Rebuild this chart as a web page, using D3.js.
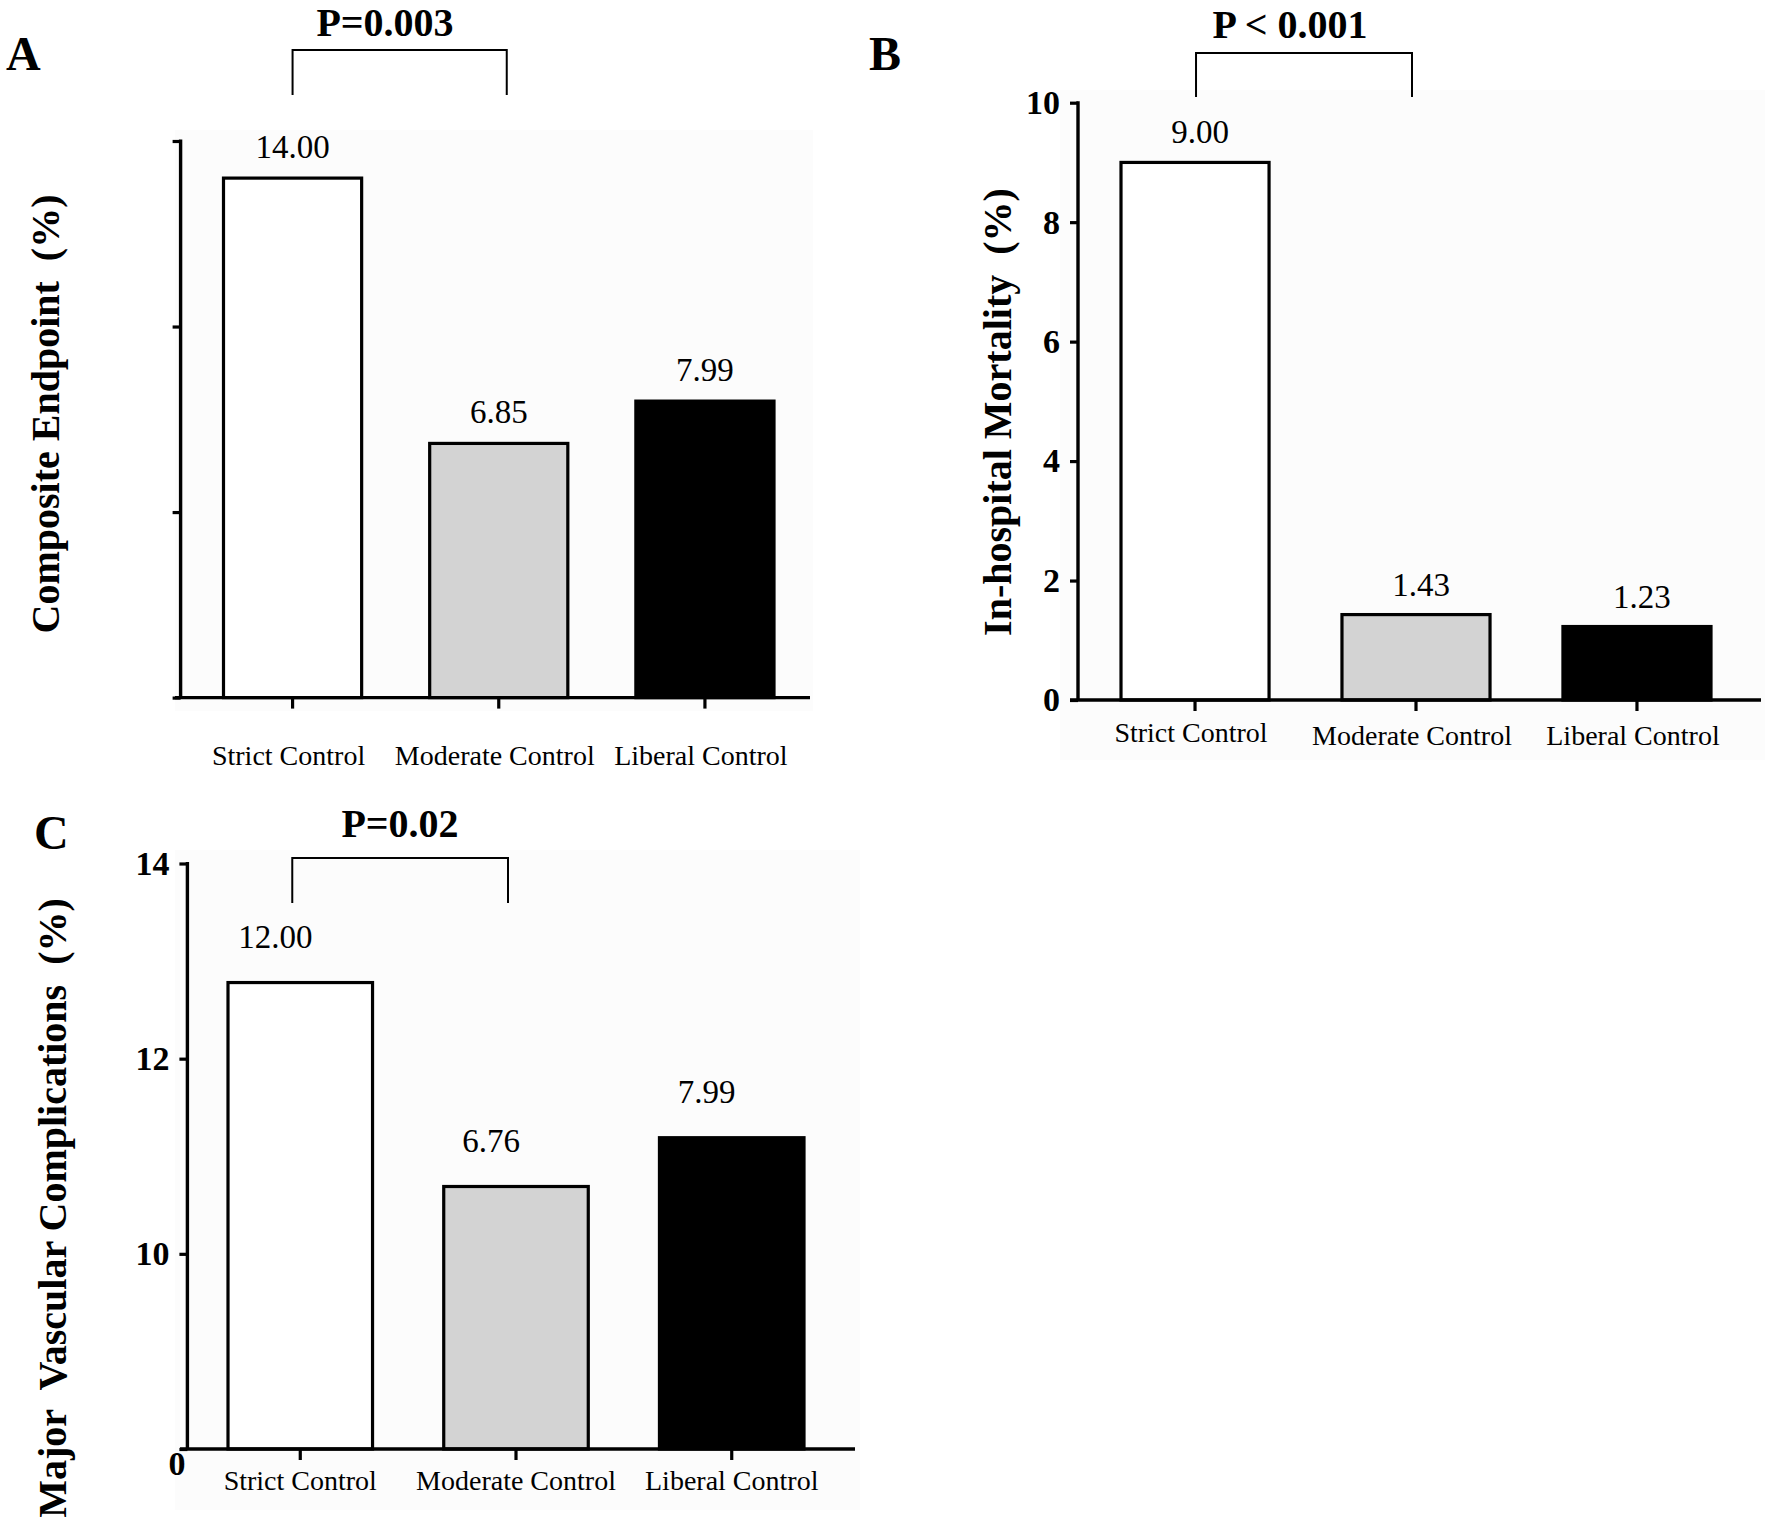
<!DOCTYPE html>
<html>
<head>
<meta charset="utf-8">
<script src="https://cdn.jsdelivr.net/npm/d3@7"></script>
<style>
  html, body { margin: 0; padding: 0; background: #fff; }
  svg { display: block; }
  text { font-family: "Liberation Serif", "Times New Roman", serif; white-space: pre; }
</style>
</head>
<body>
<svg id="chart" width="1770" height="1527"></svg>
<script>
// ---------------- DATA ----------------
const categories = ["Strict Control", "Moderate Control", "Liberal Control"];

// Panel A: Composite Endpoint (%)
const compositeValues = [14.00, 6.85, 7.99];
const compositeTicks = [0, 5, 10, 15];          // unlabeled ticks
const compositeTickLabels = ["", "", "", ""];

// Panel B: In-hospital Mortality (%)
const mortalityValues = [9.00, 1.43, 1.23];
const mortalityTicks = [0, 2, 4, 6, 8, 10];
const mortalityTickLabels = ["0", "2", "4", "6", "8", "10"];

// Panel C: Major Vascular Complications (%)
const vascularValues = [12.00, 6.76, 7.99];      // printed values
const vascularBarLevels = [12.78, 10.69, 11.19]; // bar tops as read on the drawn (broken) axis
const vascularTicks = [8, 10, 12, 14];
const vascularTickLabels = ["0", "10", "12", "14"];

const panelLetters = ["A", "B", "C"];
const pLabels = ["P=0.003", "P < 0.001", "P=0.02"];
const yTitles = ["Composite Endpoint  (%)", "In-hospital Mortality  (%)", "Major  Vascular Complications  (%)"];
const barFills = ["#ffffff", "#d3d3d3", "#000000"];

// ---------------- LAYOUT ----------------
const FONT = "Liberation Serif, Times New Roman, serif";
const panels = [
  {
    letter: panelLetters[0], letterX: 6, letterY: 70,
    p: pLabels[0], pX: 385, pY: 36,
    bracketY: 50, bracketBottom: 95, bracketDx: 0, bracketDx2: 8,
    title: yTitles[0], titleX: 47, titleY: 414,
    values: compositeValues, levels: compositeValues, labels: compositeValues.map(d => d.toFixed(2)),
    ticks: compositeTicks, tickLabels: compositeTickLabels,
    domain: [0, 15], yTop: 141, yBottom: 697.6, axisX: 180.6,
    barLeft: 223.5, barRight: 774, xAxisStart: 175, xAxisEnd: 810,
    valueDx: 0, valueGap: 20, catY: 765, bg: [175, 130, 813, 711]
  },
  {
    letter: panelLetters[1], letterX: 869, letterY: 70,
    p: pLabels[1], pX: 1290, pY: 38,
    bracketY: 53, bracketBottom: 97, bracketDx: 1, bracketDx2: -4,
    title: yTitles[1], titleX: 999, titleY: 412,
    values: mortalityValues, levels: mortalityValues, labels: mortalityValues.map(d => d.toFixed(2)),
    ticks: mortalityTicks, tickLabels: mortalityTickLabels,
    domain: [0, 10], yTop: 102.7, yBottom: 700, axisX: 1078,
    barLeft: 1121, barRight: 1711, xAxisStart: 1070, xAxisEnd: 1761,
    valueDx: 5, valueGap: 19, catY: 745, bg: [1060, 90, 1765, 760]
  },
  {
    letter: panelLetters[2], letterX: 34, letterY: 849,
    p: pLabels[2], pX: 400, pY: 837,
    bracketY: 858, bracketBottom: 903, bracketDx: -8, bracketDx2: -8,
    title: yTitles[2], titleX: 54, titleY: 1208,
    values: vascularValues, levels: vascularBarLevels, labels: vascularValues.map(d => d.toFixed(2)),
    ticks: vascularTicks, tickLabels: vascularTickLabels,
    domain: [8, 14], yTop: 863.5, yBottom: 1449, axisX: 187.4,
    barLeft: 228, barRight: 804, xAxisStart: 180, xAxisEnd: 855,
    valueDx: -25, valueGap: 35, catY: 1490, bg: [175, 850, 860, 1510]
  }
];

const svg = d3.select("#chart");
svg.append("rect").attr("width", 1770).attr("height", 1527).attr("fill", "#ffffff");

panels.forEach((P, pi) => {
  const g = svg.append("g").attr("font-family", FONT);

  // faint plot background
  g.append("rect")
    .attr("x", P.bg[0]).attr("y", P.bg[1])
    .attr("width", P.bg[2] - P.bg[0]).attr("height", P.bg[3] - P.bg[1])
    .attr("fill", "#fcfcfc");

  const x = d3.scaleBand().domain(categories)
    .range([P.barLeft, P.barRight]).paddingInner(0.33).paddingOuter(0);
  const y = d3.scaleLinear().domain(P.domain).range([P.yBottom, P.yTop]);
  const cx = c => x(c) + x.bandwidth() / 2;

  // bars
  g.selectAll("rect.bar").data(categories).join("rect")
    .attr("class", "bar")
    .attr("x", d => x(d))
    .attr("y", (d, i) => y(P.levels[i]))
    .attr("width", x.bandwidth())
    .attr("height", (d, i) => y(P.domain[0]) - y(P.levels[i]))
    .attr("fill", (d, i) => barFills[i])
    .attr("stroke", "#000").attr("stroke-width", 3.2);

  // y axis
  const yAxis = d3.axisLeft(y).tickValues(P.ticks)
    .tickFormat((d, i) => P.tickLabels[i]).tickSize(8).tickPadding(10);
  const ya = g.append("g").attr("transform", `translate(${P.axisX},0)`).call(yAxis)
    .attr("font-family", FONT);
  ya.select(".domain").remove();
  ya.selectAll(".tick line").attr("stroke", "#000").attr("stroke-width", 3.2);
  ya.selectAll(".tick text")
    .attr("font-family", FONT).attr("font-weight", "bold")
    .attr("font-size", 34).attr("fill", "#000");
  if (pi === 2) {
    // the "0" at the axis break sits near the corner
    ya.selectAll(".tick text").filter((d, i) => i === 0)
      .attr("x", -2).attr("dy", "0.75em");
  }
  g.append("line")
    .attr("x1", P.axisX).attr("x2", P.axisX)
    .attr("y1", P.yTop - 1.5).attr("y2", P.yBottom)
    .attr("stroke", "#000").attr("stroke-width", 3.4);

  // x axis
  const xa = g.append("g").attr("transform", `translate(0,${P.yBottom})`)
    .call(d3.axisBottom(x).tickSize(11).tickFormat(""));
  xa.select(".domain").remove();
  xa.selectAll(".tick line").attr("stroke", "#000").attr("stroke-width", 3.2);
  g.append("line")
    .attr("x1", P.xAxisStart).attr("x2", P.xAxisEnd)
    .attr("y1", P.yBottom).attr("y2", P.yBottom)
    .attr("stroke", "#000").attr("stroke-width", 3.4);

  // category labels
  g.selectAll("text.cat").data(categories).join("text")
    .attr("class", "cat")
    .attr("x", d => cx(d) - (pi === 2 ? 0 : 4))
    .attr("y", (d, i) => P.catY - (pi === 1 && i === 0 ? 3 : 0))
    .attr("text-anchor", "middle")
    .attr("font-family", FONT)
    .attr("font-size", 28).attr("fill", "#000")
    .text(d => d);

  // value labels
  g.selectAll("text.val").data(categories).join("text")
    .attr("class", "val")
    .attr("x", d => cx(d) + P.valueDx)
    .attr("y", (d, i) => y(P.levels[i]) - P.valueGap)
    .attr("text-anchor", "middle")
    .attr("font-family", FONT)
    .attr("font-size", 33).attr("fill", "#000")
    .text((d, i) => P.labels[i]);

  // significance bracket
  const bx1 = cx(categories[0]) + P.bracketDx;
  const bx2 = cx(categories[1]) + P.bracketDx2;
  g.append("path")
    .attr("d", `M${bx1},${P.bracketBottom}V${P.bracketY}H${bx2}V${P.bracketBottom}`)
    .attr("fill", "none").attr("stroke", "#000").attr("stroke-width", 2);
  g.append("text")
    .attr("x", P.pX).attr("y", P.pY)
    .attr("text-anchor", "middle")
    .attr("font-family", FONT)
    .attr("font-size", 40).attr("font-weight", "bold").attr("fill", "#000")
    .text(P.p);

  // panel letter
  g.append("text")
    .attr("x", P.letterX).attr("y", P.letterY)
    .attr("font-family", FONT)
    .attr("font-size", 48).attr("font-weight", "bold").attr("fill", "#000")
    .text(P.letter);

  // y title
  g.append("text")
    .attr("transform", `translate(${P.titleX},${P.titleY}) rotate(-90)`)
    .attr("text-anchor", "middle").attr("dy", "0.3em")
    .attr("font-family", FONT)
    .attr("font-size", 40).attr("font-weight", "bold").attr("fill", "#000")
    .text(P.title);
});
</script>
</body>
</html>
